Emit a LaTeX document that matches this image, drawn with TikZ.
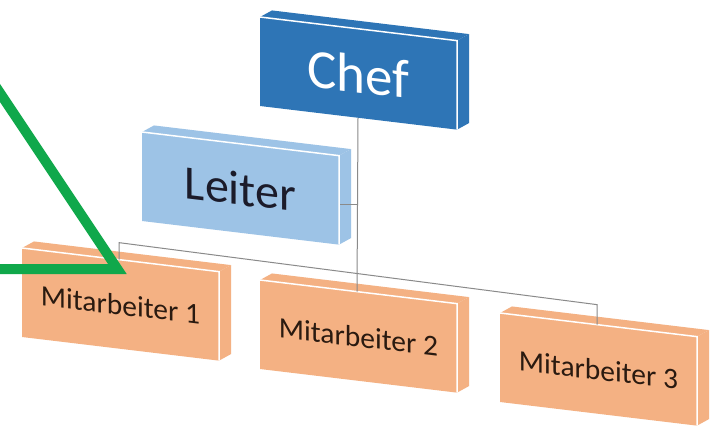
\documentclass[tikz,border=0pt]{standalone}
\usepackage{fontspec}
\setmainfont{Carlito}
\definecolor{chefblue}{HTML}{2E75B6}
\definecolor{leiterblue}{HTML}{9DC3E6}
\definecolor{maorange}{HTML}{F4B183}
\definecolor{darktext}{HTML}{1B1B2A}
\definecolor{browntext}{HTML}{2A1A10}
\definecolor{conngray}{HTML}{8A8A8A}
\definecolor{markgreen}{HTML}{10A84B}
\tikzset{
  conn/.style={draw=conngray, line width=1pt},
  greenmark/.style={draw=markgreen, line width=10pt, miter limit=10, line join=miter},
}
\newcommand\orgbox[7]{%
\begin{scope}[shift={(#2,#3)}, yslant=-0.12]
 \fill[#4] (0,0) rectangle (197,89);
 \fill[#4] (0,0) -- (12,-8) -- (209,-8) -- (197,0) -- cycle;
 \fill[#4] (197,0) -- (209,-8) -- (209,81) -- (197,89) -- cycle;
 \draw[white, line width=1.5pt] (0,0) -- (197,0) -- (197,89);
 \node[transform shape, text=#5, font=\fontsize{#6}{#6}\selectfont, inner sep=0pt] (#1) at (98.5,45) {#7};
 \coordinate (#1-t) at (97,0);
 \coordinate (#1-b) at (98,89);
 \coordinate (#1-r) at (198,49);
\end{scope}}
\begin{document}
\begin{tikzpicture}[x=1pt,y=-1pt]
\useasboundingbox (0,0) rectangle (712,431);
\fill[white] (0,0) rectangle (712,431);
\orgbox{chef}{260}{17}{chefblue}{white}{55}{Chef}
\orgbox{leiter}{142}{132}{leiterblue}{darktext}{48}{Leiter}
\orgbox{m1}{22}{248}{maorange}{browntext}{29.5}{Mitarbeiter 1}
\orgbox{m2}{260}{280}{maorange}{browntext}{29.5}{Mitarbeiter 2}
\orgbox{m3}{500}{313}{maorange}{browntext}{29.5}{Mitarbeiter 3}
\draw[conn] (chef-b) -- (m2-t);
\draw[conn] (leiter-r) -- (leiter-r -| chef-b);
\path (m1-t) ++(0,-17) coordinate (bus1);
\path (m3-t) ++(0,-20) coordinate (bus3);
\draw[conn] (m1-t) -- (bus1) -- (bus3) -- (m3-t);
\coordinate (g1) at (-6,84);
\coordinate (g2) at (117.4,269);
\coordinate (g3) at (-10,269);
\draw[greenmark] (g1) -- (g2) -- (g3);
\end{tikzpicture}
\end{document}
